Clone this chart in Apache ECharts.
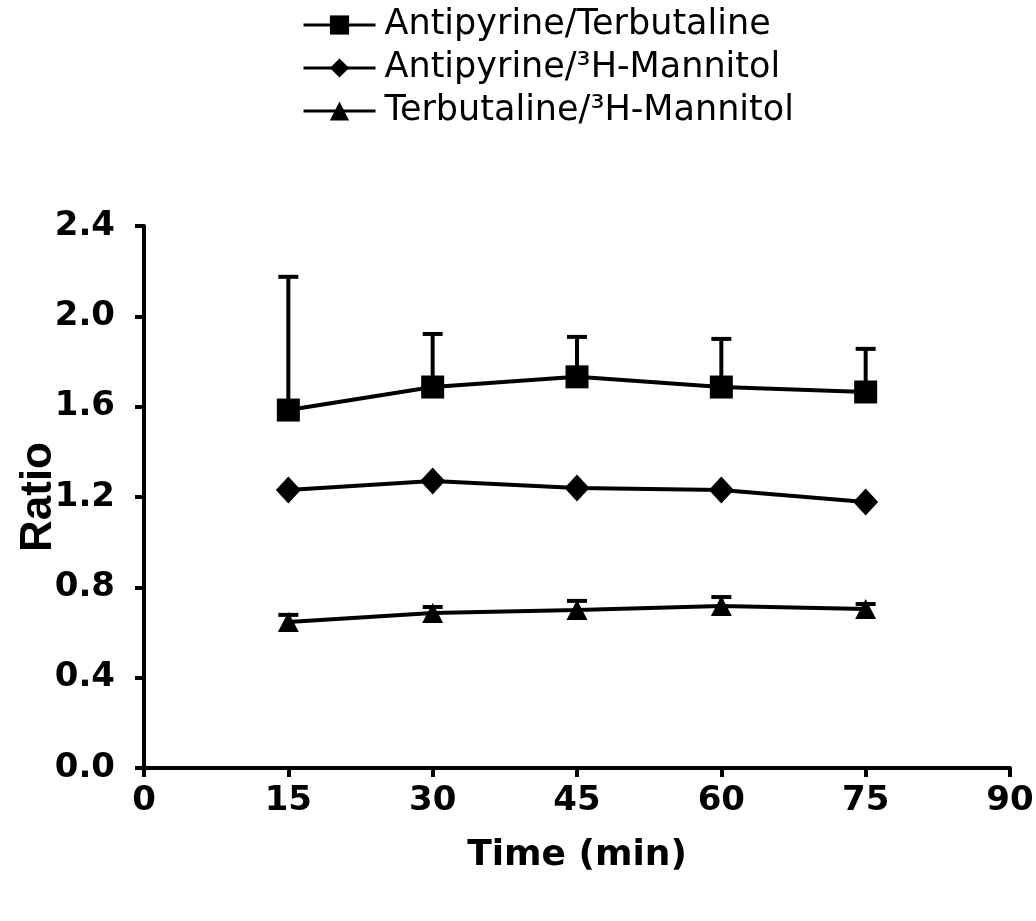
<!DOCTYPE html>
<html>
<head>
<meta charset="utf-8">
<script src="https://cdn.jsdelivr.net/npm/echarts@6/dist/echarts.min.js"></script>
<style>html,body{margin:0;padding:0;background:#fff}#c{width:1036px;height:921px}</style>
</head>
<body>
<div id="c"></div>
<script>
// ---- data ----
var times = [15, 30, 45, 60, 75];
var seriesNames = ['Antipyrine/Terbutaline', 'Antipyrine/\u00B3H-Mannitol', 'Terbutaline/\u00B3H-Mannitol'];
var apTerb = [1.585, 1.687, 1.732, 1.687, 1.665];
var apTerbErr = [0.59, 0.235, 0.177, 0.213, 0.191];
var apMan = [1.231, 1.271, 1.240, 1.231, 1.178];
var terbMan = [0.647, 0.686, 0.700, 0.717, 0.704];
var terbManErr = [0.031, 0.027, 0.040, 0.040, 0.022];
var xTicks = [0, 15, 30, 45, 60, 75, 90];
var yTicks = [0, 0.4, 0.8, 1.2, 1.6, 2.0, 2.4];

var FONT = '"DejaVu Sans", "Liberation Sans", Arial, sans-serif';
var FONT_ARIAL = '"Liberation Sans", Arial, sans-serif';

function pairs(vals) { return times.map(function (t, i) { return [t, vals[i]]; }); }
function errData(vals, errs) { return times.map(function (t, i) { return [t, vals[i], vals[i] + errs[i]]; }); }

function errRender(params, api) {
  var x = api.value(0);
  var lo = api.coord([x, api.value(1)]);
  var hi = api.coord([x, api.value(2)]);
  var hw = 10;
  var st = { stroke: '#000', lineWidth: 4 };
  return {
    type: 'group',
    children: [
      { type: 'line', shape: { x1: lo[0], y1: lo[1], x2: hi[0], y2: hi[1] }, style: st },
      { type: 'line', shape: { x1: hi[0] - hw, y1: hi[1], x2: hi[0] + hw, y2: hi[1] }, style: st }
    ]
  };
}

var chart = echarts.init(document.getElementById('c'), null, { renderer: 'canvas' });
var lineStyle = { color: '#000', width: 4 };
var option = {
  animation: false,
  backgroundColor: '#fff',
  textStyle: { fontFamily: FONT },
  legend: {
    orient: 'vertical',
    left: 302,
    top: 6,
    padding: 0,
    itemWidth: 72,
    itemHeight: 24,
    itemGap: 5,
    data: seriesNames,
    lineStyle: { width: 3 },
    textStyle: { fontFamily: FONT, fontSize: 35, color: '#000', lineHeight: 38, padding: [0, 0, 0, 4] },
    selectedMode: false
  },
  grid: { left: 144, right: 26, top: 226, bottom: 153, containLabel: false, outerBoundsMode: 'none' },
  xAxis: {
    type: 'value',
    min: xTicks[0], max: xTicks[xTicks.length - 1], interval: 15,
    name: 'Time (min)', nameLocation: 'middle', nameGap: 70,
    nameTextStyle: { fontFamily: FONT, fontSize: 36, fontWeight: 'bold', color: '#000' },
    axisLine: { show: true, lineStyle: { color: '#000', width: 4 } },
    axisTick: { show: true, length: 9, lineStyle: { color: '#000', width: 4 } },
    axisLabel: { fontFamily: FONT, fontSize: 34, fontWeight: 'bold', color: '#000', margin: 16 },
    splitLine: { show: false }
  },
  yAxis: {
    type: 'value',
    min: yTicks[0], max: yTicks[yTicks.length - 1], interval: 0.4,
    name: 'Ratio', nameLocation: 'middle', nameGap: 83, nameMoveOverlap: false,
    nameTextStyle: { fontFamily: FONT_ARIAL, fontSize: 44, fontWeight: 'bold', color: '#000' },
    axisLine: { show: true, lineStyle: { color: '#000', width: 4 } },
    axisTick: { show: true, length: 9, lineStyle: { color: '#000', width: 4 } },
    axisLabel: { fontFamily: FONT, fontSize: 34, fontWeight: 'bold', color: '#000', margin: 29,
      formatter: function (v) { return v.toFixed(1); } },
    splitLine: { show: false }
  },
  series: [
    {
      name: seriesNames[0], type: 'line', data: pairs(apTerb), z: 3,
      symbol: 'rect', symbolSize: 23,
      lineStyle: lineStyle, itemStyle: { color: '#000' }
    },
    {
      name: seriesNames[1], type: 'line', data: pairs(apMan), z: 3,
      symbol: 'diamond', symbolSize: [25, 27],
      lineStyle: lineStyle, itemStyle: { color: '#000' }
    },
    {
      name: seriesNames[2], type: 'line', data: pairs(terbMan), z: 3,
      symbol: 'triangle', symbolSize: [21, 20],
      lineStyle: lineStyle, itemStyle: { color: '#000' }
    },
    { type: 'custom', renderItem: errRender, data: errData(apTerb, apTerbErr), z: 2, encode: { x: 0, y: [1, 2] } },
    { type: 'custom', renderItem: errRender, data: errData(terbMan, terbManErr), z: 2, encode: { x: 0, y: [1, 2] } }
  ]
};
chart.setOption(option);
</script>
</body>
</html>
